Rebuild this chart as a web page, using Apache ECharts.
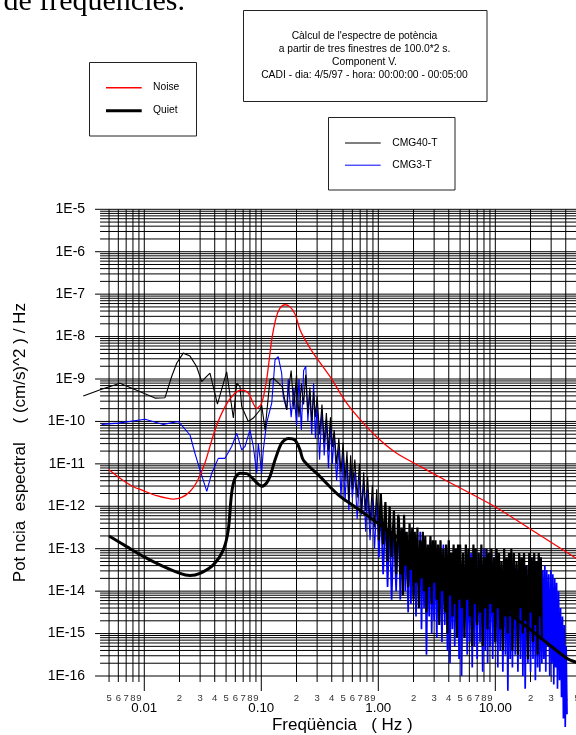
<!DOCTYPE html>
<html>
<head>
<meta charset="utf-8">
<title>Espectre de potència</title>
<script src="https://cdn.jsdelivr.net/npm/echarts@6.0.0/dist/echarts.min.js"></script>
<style>
  html, body { margin: 0; padding: 0; background: #fff; }
  #chart { width: 576px; height: 735px; }
</style>
</head>
<body>
<div id="chart"></div>
<script>
const SANS = '"Liberation Sans", Arial, sans-serif'

// axis ranges (the drawn frame starts at 0.005 Hz, the spectra a bit before)
const xMin = 0.003, xMax = 50, xFrame = 0.005
const yMin = 1e-16, yMax = 1e-5

// x tick labels
const xMajor = [0.01, 0.1, 1, 10]
const xMajorLabels = ['0.01', '0.10', '1.00', '10.00']

// model curves: frequency (Hz) and log10 of power ((cm/s)^2/Hz)
const noiseFreq = [0.005, 0.0062, 0.00805, 0.0098, 0.01276, 0.0177, 0.0209, 0.0246, 0.0282, 0.033, 0.0402, 0.049,
  0.0596, 0.0679, 0.0774, 0.0914, 0.1007, 0.111, 0.1228, 0.1337, 0.1445, 0.1596, 0.176, 0.194, 0.2143, 0.2287,
  0.278, 0.386, 0.537, 0.745, 1.035, 1.436, 2.43, 3.72, 9.94, 20.5, 50]
const noiseLog = [-11.14, -11.34, -11.54, -11.63, -11.75, -11.83, -11.79, -11.65, -11.42, -10.98, -10.2, -9.65,
  -9.33, -9.26, -9.33, -9.69, -9.57, -9.02, -8.08, -7.56, -7.33, -7.25, -7.30, -7.47, -7.84, -8.0,
  -8.39, -8.94, -9.57, -10.04, -10.44, -10.75, -11.10, -11.38, -12.01, -12.56, -13.24]

const quietFreq = [0.005, 0.00708, 0.0098, 0.0136, 0.0202, 0.0246, 0.0299, 0.0389, 0.0473, 0.0522, 0.0558, 0.0596,
  0.0658, 0.075, 0.0855, 0.094, 0.1007, 0.111, 0.1186, 0.131, 0.1494, 0.17, 0.194, 0.2143, 0.2287, 0.318,
  0.455, 0.653, 0.906, 2.27, 6.08, 16.3, 40.7, 50]
const quietLog = [-12.70, -12.95, -13.18, -13.38, -13.58, -13.63, -13.58, -13.38, -13.03, -12.56, -11.69, -11.34,
  -11.22, -11.23, -11.36, -11.48, -11.53, -11.45, -11.30, -10.91, -10.51, -10.40, -10.44, -10.67, -10.91, -11.30,
  -11.73, -12.04, -12.32, -13.11, -13.92, -14.72, -15.58, -15.68]

// measured spectra, low frequencies
const cmg40LowFreq = [0.00301, 0.00432, 0.0062, 0.01235, 0.01503, 0.01714, 0.01892, 0.02153, 0.0246, 0.02806,
  0.03096, 0.033, 0.03642, 0.0422, 0.0506, 0.0523, 0.0577, 0.0617, 0.0658, 0.068, 0.0774, 0.0855, 0.0975,
  0.1007, 0.1077, 0.1186, 0.1267, 0.151, 0.165]
const cmg40LowLog = [-9.40, -9.24, -9.10, -9.45, -9.44, -8.94, -8.63, -8.39, -8.46, -8.71,
  -9.06, -8.98, -8.86, -9.59, -8.83, -8.86, -9.92, -9.10, -9.18, -9.65, -10.00, -9.92, -9.73,
  -9.61, -10.20, -9.02, -8.98, -9.18, -9.73]

const cmg3LowFreq = [0.00432, 0.006, 0.01014, 0.01454, 0.01953, 0.0246, 0.0271, 0.0299, 0.0342, 0.0377, 0.0429,
  0.049, 0.0558, 0.0617, 0.068, 0.0726, 0.08, 0.0855, 0.0914, 0.0943, 0.1007, 0.104, 0.111, 0.1228, 0.131,
  0.1396, 0.1493, 0.154, 0.165]
const cmg3LowLog = [-10.07, -10.04, -9.95, -10.07, -10.00, -10.32, -10.75, -11.14, -11.65, -11.22, -10.87,
  -10.87, -10.59, -10.28, -10.67, -10.59, -10.20, -10.59, -11.22, -10.51, -11.22, -10.67, -10.04, -9.57, -8.55,
  -8.47, -8.86, -9.42, -9.73]

// measured spectra, 0.17 - 1.5 Hz
const midFreq = [
  0.17, 0.18, 0.19, 0.2, 0.21, 0.22, 0.23, 0.24, 0.25, 0.26, 0.27, 0.28, 0.29, 0.3,
  0.315, 0.33, 0.345, 0.36, 0.375, 0.39, 0.405, 0.42,
  0.44, 0.46, 0.48, 0.5, 0.52, 0.54, 0.56, 0.58, 0.6,
  0.63, 0.66, 0.69, 0.72, 0.75, 0.78, 0.81,
  0.85, 0.89, 0.93, 0.97, 1.01, 1.05,
  1.1, 1.15, 1.2, 1.25, 1.3, 1.36, 1.42, 1.48]
const cmg40MidLog = [
  -9.3, -8.8, -9.7, -8.9, -9.9, -9.1, -9.6, -8.9, -9.8, -9.2, -10.0, -9.3, -9.9, -9.4,
  -10.3, -9.6, -10.5, -9.8, -10.7, -9.9, -10.6, -10.2,
  -11.0, -10.4, -11.2, -10.5, -11.4, -10.7, -11.9, -10.8, -11.6,
  -10.9, -11.8, -11.0, -12.1, -11.2, -12.1, -11.3,
  -12.4, -11.5, -12.5, -11.6, -12.8, -11.7,
  -12.9, -11.9, -13.3, -12.0, -13.2, -12.1, -13.6, -12.2]
const cmg3MidLog = [
  -9.0, -9.9, -9.2, -10.1, -9.0, -10.2, -8.8, -8.7, -10.0, -9.3, -10.3, -9.1, -10.4, -9.6,
  -10.9, -9.7, -10.8, -10.0, -11.1, -10.1, -11.0, -10.3,
  -11.4, -10.6, -11.8, -10.7, -11.9, -10.9, -12.1, -11.0, -11.8,
  -11.2, -12.3, -11.3, -12.2, -11.4, -12.6, -11.6,
  -12.8, -11.8, -13.0, -11.9, -13.2, -12.0,
  -13.6, -12.2, -13.9, -12.3, -14.2, -12.4, -14.0, -12.5]

// measured spectra, dense band 1.5 - 25 Hz
const highFreq = [
  1.5, 1.54, 1.58, 1.62, 1.66, 1.7, 1.75, 1.8, 1.85, 1.9, 1.95, 2,
  2.05, 2.1, 2.16, 2.22, 2.28, 2.34, 2.4, 2.46, 2.52, 2.58, 2.65, 2.72, 2.79, 2.86, 2.93, 3,
  3.08, 3.16, 3.24, 3.32, 3.4, 3.5, 3.6, 3.7, 3.8, 3.9, 4, 4.1, 4.2, 4.3, 4.4, 4.5, 4.6, 4.7, 4.8, 4.9,
  5, 5.15, 5.3, 5.45, 5.6, 5.75, 5.9, 6.05, 6.2, 6.35, 6.5, 6.65, 6.8, 7, 7.2, 7.4, 7.6, 7.8, 8, 8.2, 8.4, 8.6, 8.8, 9,
  9.25, 9.5, 9.75, 10, 10.25, 10.5, 10.75, 11, 11.3, 11.6, 11.9, 12.2, 12.5, 12.8, 13.1, 13.4, 13.7, 14,
  14.4, 14.8, 15.2, 15.6, 16, 16.4, 16.8, 17.2, 17.6, 18, 18.5, 19, 19.5, 20, 20.5, 21, 21.5, 22, 22.5, 23, 23.5, 24, 24.5, 25]
const cmg40HighLog = [
  -12.3, -13.6, -12.5, -14.1, -12.2, -13.4, -12.6, -13.9, -12.4, -13.5, -12.5, -14.2,
  -12.6, -13.8, -12.5, -14.4, -12.8, -13.7, -12.6, -14.0, -12.7, -14.5, -12.9, -13.9, -12.7, -14.3, -12.8, -13.8,
  -12.8, -14.2, -12.9, -14.8, -12.8, -14.0, -13.0, -14.5, -12.9, -15.0, -12.8, -14.1, -13.1, -14.6, -12.9, -14.3, -13.0, -15.1, -12.9, -14.2,
  -12.9, -14.4, -13.1, -15.1, -12.9, -14.2, -13.0, -14.6, -13.2, -15.3, -12.9, -14.3, -13.0, -14.8, -13.1, -14.5, -12.9, -15.3, -13.2, -14.4, -13.0, -14.9, -13.1, -14.3,
  -13.0, -14.5, -13.2, -15.2, -13.0, -14.4, -13.1, -14.9, -13.3, -15.4, -13.0, -14.6, -13.2, -15.0, -13.1, -14.5, -13.0, -15.4,
  -13.1, -14.6, -13.3, -15.5, -13.1, -14.4, -13.2, -15.0, -13.1, -14.7, -13.4, -15.6, -13.1, -14.5, -13.2, -15.2, -13.1, -14.8, -13.3, -15.5, -13.1, -14.6, -13.2, -15.1]
const cmg3HighLog = [
  -12.4, -14.2, -12.7, -13.8, -12.5, -14.0, -12.8, -14.5, -12.6, -14.3, -12.9, -14.1,
  -12.7, -14.6, -12.8, -14.2, -12.6, -14.9, -12.9, -14.4, -12.8, -15.5, -13.0, -14.6, -12.8, -15.0, -13.1, -14.7,
  -12.9, -15.1, -13.0, -14.7, -13.2, -15.2, -12.9, -14.8, -13.1, -15.4, -13.0, -15.7, -13.2, -14.9, -13.0, -15.3, -13.1, -15.0, -13.3, -15.6,
  -13.0, -16.0, -13.2, -15.1, -13.0, -15.5, -13.3, -15.2, -13.1, -15.8, -13.0, -15.3, -13.2, -15.6, -13.1, -15.2, -13.3, -15.9, -13.0, -15.4, -13.2, -15.7, -13.1, -15.3,
  -13.1, -15.6, -13.3, -15.2, -13.1, -15.8, -13.2, -15.4, -13.4, -15.9, -13.1, -15.5, -13.3, -16.35, -13.2, -15.6, -13.1, -15.8,
  -13.2, -15.5, -13.4, -15.9, -13.2, -15.6, -13.3, -16.0, -13.2, -16.3, -13.4, -15.7, -13.2, -15.9, -13.3, -15.6, -13.2, -16.1, -13.4, -15.8, -13.2, -15.9, -13.3, -15.7]

// CMG3-T goes on past 25 Hz
const cmg3TailFreq = [25.5, 26, 26.5, 27, 27.5, 28, 28.6, 29.2, 29.8, 30.4, 31, 31.6, 32.2, 32.8, 33.4, 34,
  34.7, 35.4, 36.1, 36.8, 37.5, 38.2, 38.9, 39.6, 40.3, 41]
const cmg3TailLog = [-13.5, -15.6, -13.4, -15.9, -13.5, -15.3, -13.6, -16.0, -13.5, -15.7, -13.6, -16.2, -13.7, -15.8, -13.8, -16.3,
  -14.0, -16.1, -14.4, -16.5, -14.6, -17.0, -14.8, -17.2, -15.3, -16.9]

const toPts = (f, lg) => f.map((v, i) => [v, Math.pow(10, lg[i])])

// grid line positions (1..9 of every decade)
const xTicks = []
;[0.001, 0.01, 0.1, 1, 10].forEach(d => {
  for (let m = 1; m <= 9; m++) {
    const v = +(m * d).toPrecision(3)
    if (v >= xFrame && v <= xMax) xTicks.push([v, yMin, m])
  }
})
const yTicks = []
for (let k = -16; k <= -5; k++) {
  for (let m = 1; m <= 9; m++) {
    if (k === -5 && m > 1) break
    yTicks.push([xFrame, +(m + 'e' + k), m])
  }
}

function xGridItem (params, api) {
  const v = api.value(0), m = api.value(2)
  const a = api.coord([v, yMax]), b = api.coord([v, yMin])
  const major = m === 1
  return {
    type: 'group',
    children: [{
      type: 'line',
      shape: { x1: a[0], y1: a[1], x2: b[0], y2: b[1] + (major ? 15 : 6) },
      style: { stroke: '#000', lineWidth: 1 }
    }, {
      type: 'text',
      style: {
        text: major ? xMajorLabels[xMajor.indexOf(v)] : String(m),
        x: b[0], y: b[1] + (major ? 32.5 : 22),
        font: (major ? '13.3px ' : '9.5px ') + SANS,
        fill: major ? '#000' : '#333',
        align: 'center', verticalAlign: 'middle'
      }
    }]
  }
}

function yGridItem (params, api) {
  const v = api.value(1), m = api.value(2)
  const a = api.coord([xFrame, v]), b = api.coord([xMax, v])
  return {
    type: 'line',
    shape: { x1: a[0] - (m === 1 ? 14 : 9), y1: a[1], x2: b[0], y2: b[1] },
    style: { stroke: '#000', lineWidth: 1 }
  }
}

const lineSeries = (name, data, color, width, smooth, z) => ({
  type: 'line', name, data, smooth, z,
  symbol: 'none', clip: false, silent: true, animation: false,
  emphasis: { disabled: true },
  lineStyle: { color, width }
})

const txt = (text, x, y, size, align) => ({
  type: 'text', x, y, silent: true,
  style: { text, font: size + 'px ' + SANS, fill: '#000', align: align || 'left', verticalAlign: 'middle' }
})
const box = (x, y, w, h) => ({
  type: 'rect', silent: true, shape: { x, y, width: w, height: h },
  style: { fill: '#fff', stroke: '#222', lineWidth: 1 }
})
const seg = (x1, x2, y, color, w) => ({
  type: 'line', silent: true, shape: { x1, y1: y, x2, y2: y }, style: { stroke: color, lineWidth: w }
})

// thin lines below ~1 Hz, heavier strokes where the spectra become a dense band
const cut = midFreq.indexOf(1.01)
const cmg40Low = toPts(cmg40LowFreq, cmg40LowLog).concat(toPts(midFreq.slice(0, cut + 1), cmg40MidLog.slice(0, cut + 1)))
const cmg3Low = toPts(cmg3LowFreq, cmg3LowLog).concat(toPts(midFreq.slice(0, cut + 1), cmg3MidLog.slice(0, cut + 1)))
const cmg40High = toPts(midFreq.slice(cut), cmg40MidLog.slice(cut)).concat(toPts(highFreq, cmg40HighLog))
const cmg3High = toPts(midFreq.slice(cut), cmg3MidLog.slice(cut)).concat(toPts(highFreq, cmg3HighLog), toPts(cmg3TailFreq, cmg3TailLog))

const chart = echarts.init(document.getElementById('chart'))
chart.setOption({
  backgroundColor: '#fff',
  animation: false,
  grid: { left: 83.1, top: 209.3, width: 494, height: 466.7, containLabel: false, outerBoundsMode: 'none' },
  xAxis: {
    type: 'log', logBase: 10, min: xMin, max: xMax,
    axisLine: { show: false }, axisTick: { show: false }, axisLabel: { show: false },
    splitLine: { show: false }
  },
  yAxis: {
    type: 'log', logBase: 10, min: yMin, max: yMax, interval: 1, offset: -26,
    name: 'Pot ncia  espectral    ( (cm/s)^2 ) / Hz', nameLocation: 'middle', nameGap: 80, nameRotate: 90,
    nameMoveOverlap: false,
    nameTextStyle: { fontFamily: 'Liberation Sans', fontSize: 17, color: '#000' },
    axisLine: { show: false }, axisTick: { show: false }, splitLine: { show: false },
    axisLabel: {
      margin: 24, color: '#000', fontFamily: 'Liberation Sans', fontSize: 14,
      formatter: v => '1E' + Math.round(Math.log10(v))
    }
  },
  series: [
    {
      type: 'custom', name: 'xgrid', z: 1, clip: false, silent: true, animation: false,
      dimensions: ['x', 'y', 'm'], encode: { x: 0, y: 1 },
      data: xTicks, renderItem: xGridItem
    },
    {
      type: 'custom', name: 'ygrid', z: 1, clip: false, silent: true, animation: false,
      dimensions: ['x', 'y', 'm'], encode: { x: 0, y: 1 },
      data: yTicks, renderItem: yGridItem
    },
    lineSeries('CMG3-T', cmg3Low, '#0000ff', 1.1, false, 3),
    lineSeries('CMG3-T', cmg3High, '#0000ff', 1.7, false, 3),
    lineSeries('CMG40-T', cmg40Low, '#000', 1.1, false, 4),
    lineSeries('CMG40-T', cmg40High, '#000', 2.2, false, 4),
    lineSeries('Quiet', toPts(quietFreq, quietLog), '#000', 3, 0.3, 5),
    lineSeries('Noise', toPts(noiseFreq, noiseLog), '#ff0000', 1.3, 0.3, 6)
  ],
  graphic: [
    {
      type: 'text', x: 185, y: 17, silent: true,
      style: { text: 'de freqüències.', font: '30px "Liberation Serif"', fill: '#000', align: 'right', verticalAlign: 'bottom' }
    },
    txt('Freqüència   ( Hz )', 342.3, 725, 17, 'center'),
    box(243.5, 10.5, 243.5, 91),
    txt("Càlcul de l'espectre de potència", 364.5, 36, 10.3, 'center'),
    txt('a partir de tres finestres de 100.0*2 s.', 364.5, 49.5, 10.3, 'center'),
    txt('Component V.', 364.5, 62.3, 10.3, 'center'),
    txt('CADI - dia: 4/5/97 - hora: 00:00:00 - 00:05:00', 364.5, 75, 10.3, 'center'),
    box(89.5, 62.5, 107, 73.5),
    seg(106, 141.7, 87.7, '#ff0000', 1.6),
    txt('Noise', 153, 87.5, 10.3),
    seg(106, 141.7, 110.7, '#000', 3),
    txt('Quiet', 153, 110.5, 10.3),
    box(328.5, 117.5, 126.5, 72.5),
    seg(345, 380.7, 143, '#555', 1.5),
    txt('CMG40-T', 392.3, 143, 10.3),
    seg(345, 380.7, 165.2, '#0000ff', 1),
    txt('CMG3-T', 392.3, 165, 10.3)
  ]
})
</script>
</body>
</html>
